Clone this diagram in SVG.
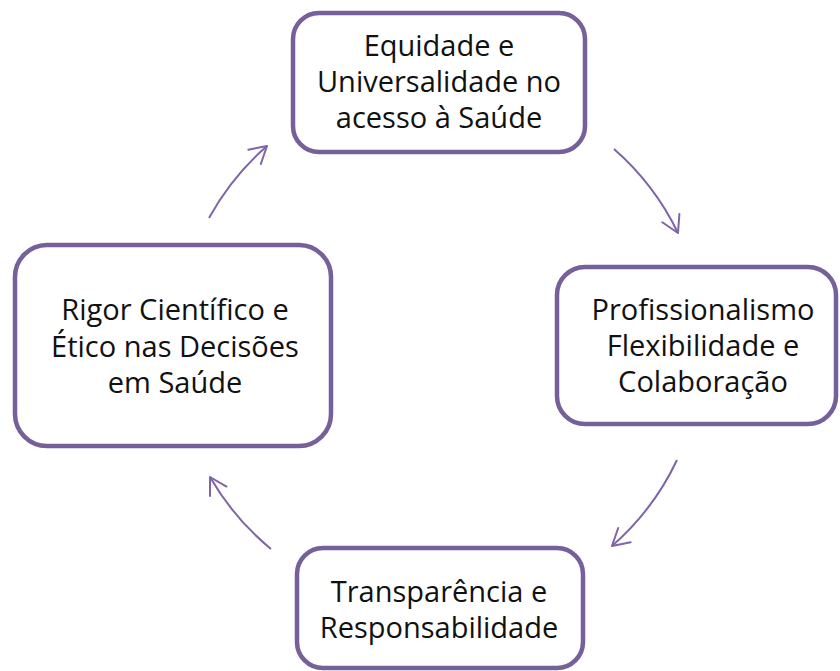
<svg xmlns="http://www.w3.org/2000/svg" width="840" height="671" viewBox="0 0 840 671">
<style>
.box{fill:#ffffff;stroke:#76609a;stroke-width:4.5}
.lbl{font-family:"Open Sans","Noto Sans","Liberation Sans",sans-serif;font-size:29px;fill:#111111;text-anchor:middle}
.arc{fill:none;stroke:#7e64a8;stroke-width:2;marker-end:url(#ah)}
</style>
<defs>
<marker id="ah" viewBox="0 0 17 20" refX="16.5" refY="10" markerWidth="17" markerHeight="20" markerUnits="userSpaceOnUse" orient="auto" overflow="visible">
<path d="M0,0.5 L16.5,10 L0,19.5" fill="none" stroke="#7e64a8" stroke-width="2" stroke-linecap="round" stroke-linejoin="round"/>
</marker>
</defs>
<rect width="840" height="671" fill="#ffffff"/>
<g id="connectors">
<path class="arc" d="M614,149 A264,264 0 0 1 678,233"/>
<path class="arc" d="M677,460 A264,264 0 0 1 612,546"/>
<path class="arc" d="M271,549 A264,264 0 0 1 210,477"/>
<path class="arc" d="M209,218 A264,264 0 0 1 267,146"/>
</g>
<g id="node-equidade">
<rect class="box" x="293" y="13" width="292" height="139" rx="26"/>
<text class="lbl" x="439" y="56">Equidade e</text>
<text class="lbl" x="439" y="92">Universalidade no</text>
<text class="lbl" x="439" y="128">acesso à Saúde</text>
</g>
<g id="node-profissionalismo">
<rect class="box" x="557" y="267" width="279" height="157" rx="28"/>
<text class="lbl" x="703" y="320">Profissionalismo</text>
<text class="lbl" x="703" y="356">Flexibilidade e</text>
<text class="lbl" x="703" y="392">Colaboração</text>
</g>
<g id="node-transparencia">
<rect class="box" x="297" y="548" width="286" height="120" rx="26"/>
<text class="lbl" x="439" y="602">Transparência e</text>
<text class="lbl" x="439" y="638">Responsabilidade</text>
</g>
<g id="node-rigor">
<rect class="box" x="15" y="245" width="316" height="201" rx="32"/>
<text class="lbl" x="175" y="320">Rigor Científico e</text>
<text class="lbl" x="175" y="357">Ético nas Decisões</text>
<text class="lbl" x="175" y="393">em Saúde</text>
</g>
</svg>
